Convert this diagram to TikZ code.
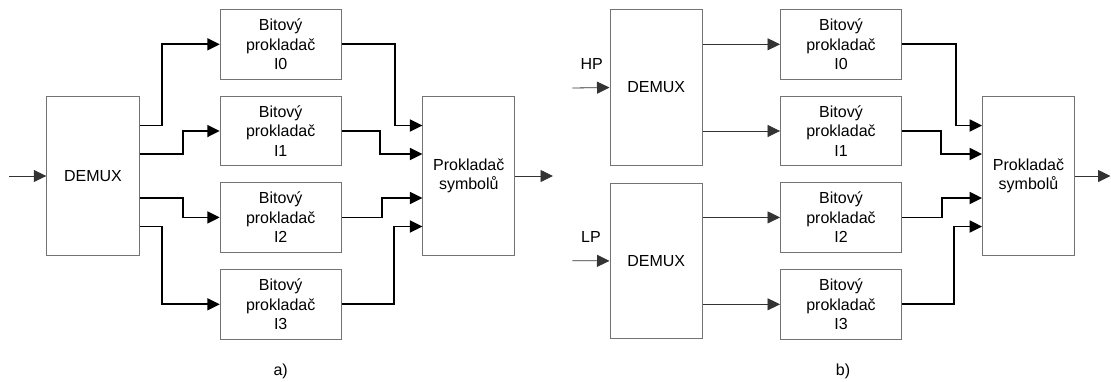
\documentclass[tikz,border=0pt]{standalone}
\usepackage{fontspec}
\setmainfont{Liberation Sans}
\usetikzlibrary{arrows.meta}
\tikzset{
  blk/.style={draw=black!55, line width=0.9pt, fill=white, inner sep=0pt, align=center,
    font=\fontsize{16}{19.5}\selectfont},
  demuxbox/.style={blk, minimum width=92.5pt, minimum height=157pt},
  ilbox/.style={blk, minimum width=121pt, minimum height=69.3pt},
  symbox/.style={blk, minimum width=92pt, minimum height=158.3pt},
  tip/.style={-{Triangle[length=12.5pt,width=12pt]}},
  thickconn/.style={tip, line width=1.8pt},
  thinconn/.style={tip, line width=0.8pt, draw=black!80},
  lbl/.style={font=\fontsize{16}{19.5}\selectfont, inner sep=0pt}
}
\begin{document}
\begin{tikzpicture}[x=1pt,y=-1pt]
\useasboundingbox (0,0) rectangle (1111,381);

% ---------- panel a ----------
\node[demuxbox, minimum height=158.3pt] (demA) at (93,176) {DEMUX};
\node[ilbox] (Ia0) at (280.7,44.3) {Bitový\\prokladač\\I0};
\node[ilbox] (Ia1) at (280.7,131) {Bitový\\prokladač\\I1};
\node[ilbox] (Ia2) at (280.7,217.4) {Bitový\\prokladač\\I2};
\node[ilbox] (Ia3) at (280.7,304.3) {Bitový\\prokladač\\I3};
\node[symbox] (PA) at (468.8,176) {Prokladač\\symbolů};
\coordinate (inA) at (9,176);
\coordinate (outA) at (553,176);
\node[lbl] (la) at (280.7,371) {a)};

\draw[thinconn] (inA) -- (demA.west);
\draw[thinconn] (PA.east) -- (outA);

\draw[thickconn] ([yshift=50.5pt]demA.east) -- ++(22,0) |- (Ia0.west);
\draw[thickconn] ([yshift=22pt]demA.east) -- ++(43.4,0) |- (Ia1.west);
\draw[thickconn] ([yshift=-22pt]demA.east) -- ++(43.4,0) |- (Ia2.west);
\draw[thickconn] ([yshift=-50.5pt]demA.east) -- ++(22,0) |- (Ia3.west);

\draw[thickconn] (Ia0.east) -- ++(53.7,0) |- ([yshift=50.5pt]PA.west);
\draw[thickconn] (Ia1.east) -- ++(38.5,0) |- ([yshift=22pt]PA.west);
\draw[thickconn] (Ia2.east) -- ++(40.4,0) |- ([yshift=-22pt]PA.west);
\draw[thickconn] (Ia3.east) -- ++(52.7,0) |- ([yshift=-50.5pt]PA.west);

% ---------- panel b ----------
\node[demuxbox, minimum height=155.6pt] (demH) at (656.2,87.5) {DEMUX};
\node[demuxbox, minimum height=155.6pt] (demL) at (656.2,260.9) {DEMUX};
\node[ilbox] (Ib0) at (841,44.3) {Bitový\\prokladač\\I0};
\node[ilbox] (Ib1) at (841,131) {Bitový\\prokladač\\I1};
\node[ilbox] (Ib2) at (841,217.4) {Bitový\\prokladač\\I2};
\node[ilbox] (Ib3) at (841,304.3) {Bitový\\prokladač\\I3};
\node[symbox] (PB) at (1028.5,176) {Prokladač\\symbolů};
\coordinate (inH) at (572.3,88);
\coordinate (inL) at (572.3,260.7);
\coordinate (outB) at (1110.5,176);
\node[lbl] (hp) at (591.7,64.3) {HP};
\node[lbl] (lp) at (591,236.7) {LP};
\node[lbl] (lb) at (843,371) {b)};

\draw[thinconn] (inH) -- (demH.west);
\draw[thinconn] (inL) -- (demL.west);
\draw[thinconn] (PB.east) -- (outB);

\draw[thinconn] (demH.east |- Ib0.west) -- (Ib0.west);
\draw[thinconn] (demH.east |- Ib1.west) -- (Ib1.west);
\draw[thinconn] (demL.east |- Ib2.west) -- (Ib2.west);
\draw[thinconn] (demL.east |- Ib3.west) -- (Ib3.west);

\draw[thickconn] (Ib0.east) -- ++(53.7,0) |- ([yshift=50.5pt]PB.west);
\draw[thickconn] (Ib1.east) -- ++(38.7,0) |- ([yshift=22pt]PB.west);
\draw[thickconn] (Ib2.east) -- ++(40.4,0) |- ([yshift=-22pt]PB.west);
\draw[thickconn] (Ib3.east) -- ++(52.4,0) |- ([yshift=-50.5pt]PB.west);
\end{tikzpicture}
\end{document}
